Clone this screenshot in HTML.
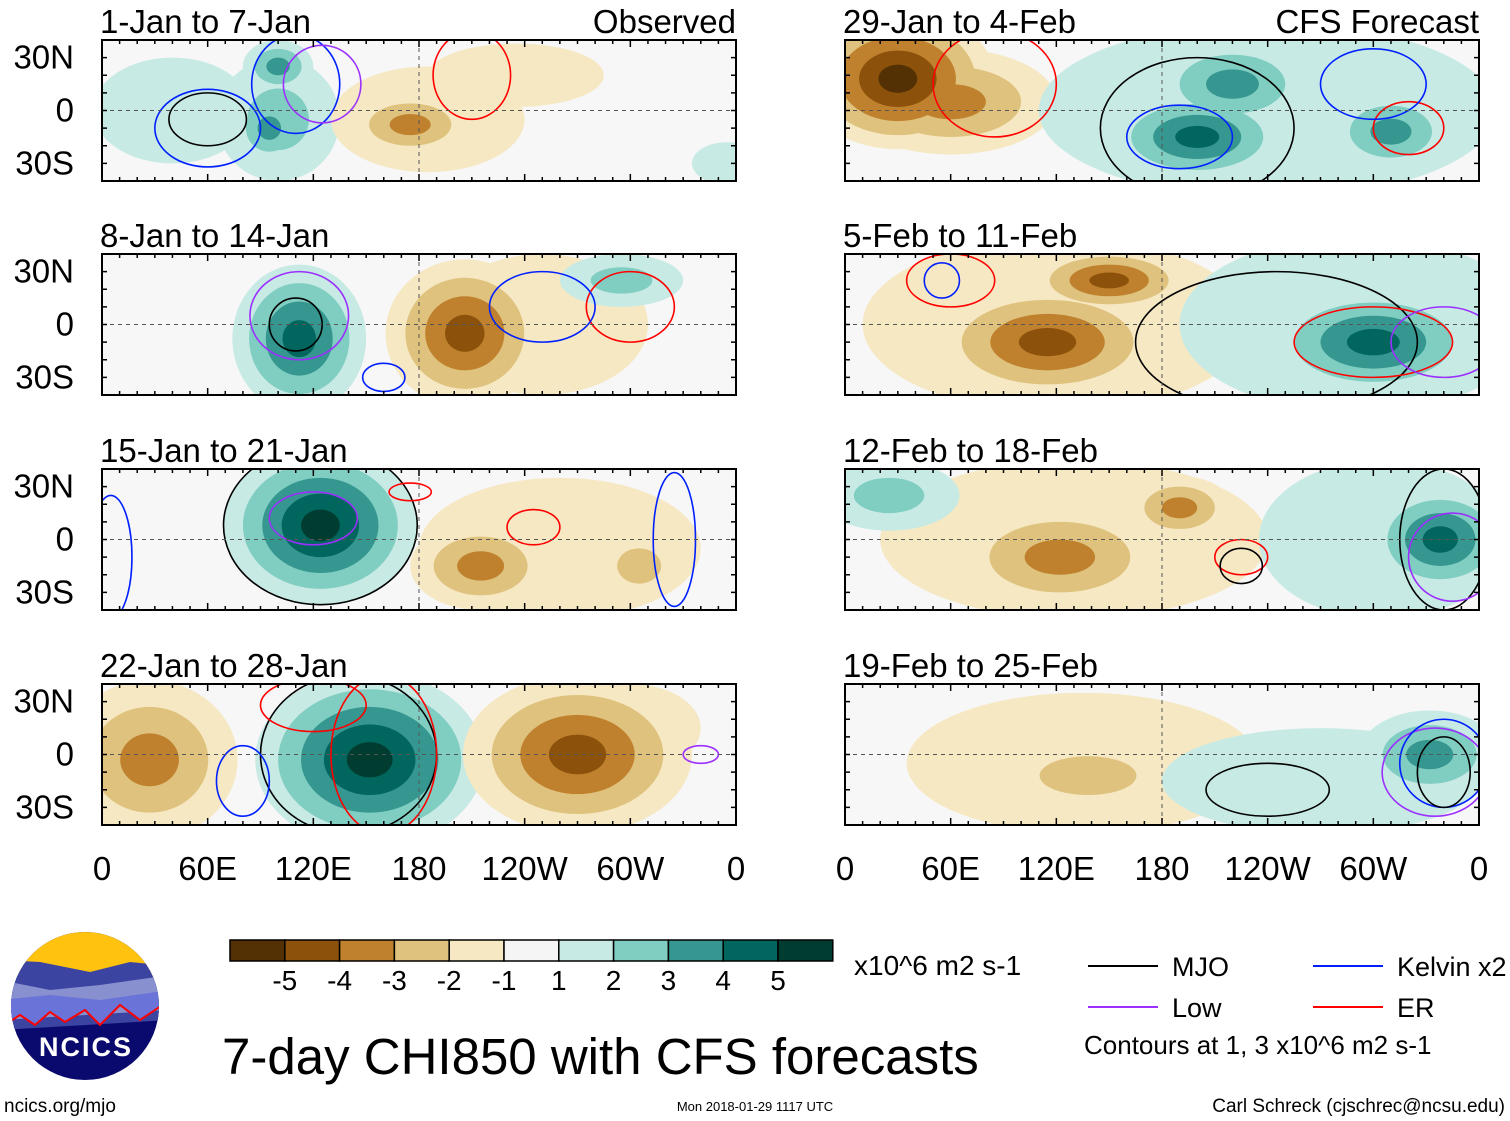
<!DOCTYPE html>
<html><head><meta charset="utf-8"><style>
html,body{margin:0;padding:0;background:#fff;}
svg{display:block;font-family:"Liberation Sans",sans-serif;}
</style></head><body>
<svg id="chart" width="1510" height="1121" viewBox="0 0 1510 1121" xmlns="http://www.w3.org/2000/svg">
<g id="panels"></g>
<g id="legend"></g>
</svg>
<script>
// ---- data ----
const levelColors = ["#543005","#8c510a","#bf812d","#dfc27d","#f6e8c3","#f5f5f5","#c7eae5","#80cdc1","#35978f","#01665e","#003c30"];
const levelLabels = ["-5","-4","-3","-2","-1","1","2","3","4","5"];
const lonTickLabels = ["0","60E","120E","180","120W","60W","0"];
const latTickLabels = ["30N","0","30S"];
const latTicks = [30,0,-30];
const panelTitles = ["1-Jan to 7-Jan","8-Jan to 14-Jan","15-Jan to 21-Jan","22-Jan to 28-Jan","29-Jan to 4-Feb","5-Feb to 11-Feb","12-Feb to 18-Feb","19-Feb to 25-Feb"];
// blobs: [lon, lat, lonRadius, latRadius, level]
const blobsP1 = [[40,0,45,30,1],[100,-5,35,35,2],[95,-10,20,20,3],[100,25,20,15,3],[185,-5,55,30,-1],[235,20,50,18,-1],[175,-8,35,18,-3],[355,-30,20,12,1]];
const blobsP2 = [[112,-8,38,42,4],[206,-5,45,42,-4],[250,0,60,40,-1],[295,25,35,15,2]];
const blobsP3 = [[124,8,55,45,5],[260,-5,80,40,-1],[215,-15,40,25,-3],[305,-15,25,20,-2]];
const blobsP4 = [[27,-3,50,45,-3],[152,-3,65,50,5],[270,0,65,45,-4],[300,15,40,25,-1]];
const blobsP5 = [[30,18,55,40,-5],[60,5,60,30,-3],[200,-15,50,25,4],[220,15,45,25,3],[310,-12,35,22,3],[240,0,130,50,1]];
const blobsP6 = [[115,-10,65,32,-4],[150,25,45,18,-4],[120,0,110,50,-1],[300,-10,60,30,4],[290,0,100,50,1]];
const blobsP7 = [[122,-10,60,30,-3],[190,18,30,18,-3],[130,0,110,45,-1],[338,0,40,30,4],[305,0,70,45,1],[25,25,40,20,2]];
const blobsP8 = [[138,-12,55,22,-2],[135,-5,100,40,-1],[332,0,40,25,3],[270,-15,90,30,1]];
const blobSets = [blobsP1,blobsP2,blobsP3,blobsP4,blobsP5,blobsP6,blobsP7,blobsP8];
// contours: [lon, lat, lonR, latR, colorIndex] 0 MJO 1 Low 2 Kelvin 3 ER
const contP1 = [[60,-10,30,22,2],[110,15,25,28,2],[125,15,22,22,1],[210,20,22,25,3],[60,-5,22,15,0]];
const contP2 = [[112,5,28,25,1],[110,0,15,15,0],[300,10,25,20,3],[250,10,30,20,2],[160,-30,12,8,2]];
const contP3 = [[124,8,55,45,0],[120,12,25,15,1],[245,7,15,10,3],[175,27,12,5,3],[5,-10,12,35,2],[325,0,12,38,2]];
const contP4 = [[140,0,50,45,0],[160,0,30,45,3],[120,28,30,15,3],[340,0,10,5,1],[80,-15,15,20,2]];
const contP5 = [[200,-10,55,40,0],[190,-15,30,18,2],[85,15,35,30,3],[320,-10,20,15,3],[300,15,30,20,2]];
const contP6 = [[245,-10,80,40,0],[300,-10,45,20,3],[340,-10,30,20,1],[60,25,25,15,3],[55,25,10,10,2]];
const contP7 = [[340,0,25,40,0],[345,-10,25,25,1],[225,-10,15,10,3],[225,-15,12,10,0]];
const contP8 = [[335,-10,30,25,1],[340,-5,25,25,2],[240,-20,35,15,0],[340,-10,15,20,0]];
const contSets = [contP1,contP2,contP3,contP4,contP5,contP6,contP7,contP8];
const contourColors = ["#000","#9b30ff","#0020ff","#ff0000"];

const NS="http://www.w3.org/2000/svg";
function mk(t,attrs,parent){const e=document.createElementNS(NS,t);for(const k in attrs)e.setAttribute(k,attrs[k]);parent.appendChild(e);return e;}
const panelsG=document.getElementById('panels');
const cols=[102,845], rows=[40,254,469,684], W=634, H=141;
function xS(x0,lon){return x0+lon/360*W;}
function yS(y0,lat){return y0+(40-lat)/80*H;}

for(let p=0;p<8;p++){
  const x0=cols[p<4?0:1], y0=rows[p%4];
  const g=mk('g',{},panelsG);
  
  
  const cid='clip'+p;
  const cp=mk('clipPath',{id:cid},g);mk('rect',{x:x0,y:y0,width:W,height:H},cp);
  mk('rect',{x:x0,y:y0,width:W,height:H,fill:'#f7f7f7'},g);
  const fg=mk('g',{'clip-path':'url(#'+cid+')'},g);
  const blobs=blobSets[p];
  for(let lev=1;lev<=5;lev++){
    blobs.forEach(b=>{
      const L=Math.abs(b[4]); if(L<lev) return;
      const s=(L-lev+1)/L;
      const ci=b[4]<0?5-lev:5+lev;
      const e=mk('ellipse',{cx:xS(x0,b[0]),cy:yS(y0,b[1]),rx:b[2]/360*W*s,ry:b[3]/80*H*s,fill:levelColors[ci]},fg);
      
      
    });
  }
  contSets[p].forEach(c=>{
    const e=mk('ellipse',{cx:xS(x0,c[0]),cy:yS(y0,c[1]),rx:c[2]/360*W,ry:c[3]/80*H,fill:'none',stroke:contourColors[c[4]],'stroke-width':1.6},fg);
    
    
  });
  mk('line',{x1:x0,x2:x0+W,y1:yS(y0,0),y2:yS(y0,0),stroke:'#555','stroke-dasharray':'4,4','stroke-width':1},g);
  mk('line',{x1:xS(x0,180),x2:xS(x0,180),y1:y0,y2:y0+H,stroke:'#555','stroke-dasharray':'4,4','stroke-width':1},g);
  const fr=mk('rect',{x:x0,y:y0,width:W,height:H,fill:'none',stroke:'#000','stroke-width':2},g);
  
  
  for(let lon=0;lon<=360;lon+=10){
    const len=lon%60===0?7:4, x=xS(x0,lon);
    mk('line',{x1:x,x2:x,y1:y0,y2:y0+len,stroke:'#000','stroke-width':1.5},g);
    mk('line',{x1:x,x2:x,y1:y0+H,y2:y0+H-len,stroke:'#000','stroke-width':1.5},g);
  }
  for(let lat=-40;lat<=40;lat+=10){
    const y=yS(y0,lat);
    mk('line',{x1:x0,x2:x0+5,y1:y,y2:y,stroke:'#000','stroke-width':1.5},g);
    mk('line',{x1:x0+W,x2:x0+W-5,y1:y,y2:y,stroke:'#000','stroke-width':1.5},g);
  }
  const t=mk('text',{x:x0-2,y:y0-7,'font-size':33},g);t.textContent=panelTitles[p];
  
  
  if(p===0||p===4){
    const r=mk('text',{x:x0+W,y:y0-7,'font-size':33,'text-anchor':'end'},g);r.textContent=p===0?'Observed':'CFS Forecast';
    
    
  }
  if(p<4){
    latTicks.forEach((lat,i)=>{
      const tl=mk('text',{x:74,y:yS(y0,lat)+11,'font-size':33,'text-anchor':'end'},g);tl.textContent=latTickLabels[i];
      
      
    });
  }
  if(p===3||p===7){
    lonTickLabels.forEach((lb,i)=>{
      const tl=mk('text',{x:xS(x0,i*60),y:880,'font-size':33,'text-anchor':'middle'},g);tl.textContent=lb;
      
      
    });
  }
}

// ---- legend ----
const lg=document.getElementById('legend');
const bx0=230,bw=54.8;
levelColors.forEach((c,i)=>{
  const r=mk('rect',{x:bx0+i*bw,y:940,width:bw,height:21,fill:c,stroke:'#000','stroke-width':1.5},lg);
  
  
});
levelLabels.forEach((l,i)=>{
  const t=mk('text',{x:bx0+(i+1)*bw,y:990,'font-size':28,'text-anchor':'middle'},lg);t.textContent=l;
  
  
});
function txt(x,y,s,str,anchor,name,col){const t=mk('text',{x:x,y:y,'font-size':s,'text-anchor':anchor||'start',fill:col||'#000'},lg);t.textContent=str;return t;}
txt(854,975,28,'x10^6 m2 s-1','start','colorbar-units');
txt(222,1074,51,'7-day CHI850 with CFS forecasts','start','main-title');
const legItems=[[1088,966,'MJO','#000'],[1313,966,'Kelvin x2','#0020ff'],[1088,1007,'Low','#9b30ff'],[1313,1007,'ER','#ff0000']];
legItems.forEach(li=>{
  const l=mk('line',{x1:li[0],x2:li[0]+70,y1:li[1],y2:li[1],stroke:li[3],'stroke-width':2},lg);
  
  
  txt(li[0]+84,li[1]+10,27,li[2],'start','legend-entry');
});
txt(1084,1054,26,'Contours at 1, 3 x10^6 m2 s-1','start','contour-note');
txt(4,1112,19,'ncics.org/mjo','start','site-url');
txt(755,1111,13,'Mon 2018-01-29 1117 UTC','middle','timestamp');
txt(1505,1112,19,'Carl Schreck (cjschrec@ncsu.edu)','end','author');
const logo=mk('g',{},lg);


const lc=mk('clipPath',{id:'logoclip'},logo);mk('ellipse',{cx:85,cy:1006,rx:74,ry:74},lc);
const lgc=mk('g',{'clip-path':'url(#logoclip)'},logo);
mk('rect',{x:0,y:930,width:170,height:160,fill:'#0a0a6e'},lgc);
mk('rect',{x:0,y:930,width:170,height:45,fill:'#ffc20e'},lgc);
mk('path',{d:'M0 960 L40 962 L90 972 L130 962 L170 966 L170 1020 L0 1030 Z',fill:'#3b44a0'},lgc);
mk('path',{d:'M0 980 L50 990 L100 985 L170 975 L170 1010 L0 1020 Z',fill:'#8890d0'},lgc);
mk('path',{d:'M0 1000 L50 995 L100 1000 L170 990 L170 1000 L140 1020 L120 1005 L100 1025 L85 1010 L65 1022 L50 1012 L35 1025 L20 1015 L0 1028 Z',fill:'#6a74d8'},lgc);
mk('path',{d:'M0 1028 L20 1015 L35 1025 L50 1012 L65 1022 L85 1010 L100 1025 L120 1005 L140 1020 L170 1000',fill:'none',stroke:'#f00','stroke-width':2},lgc);
const nt=mk('text',{x:86,y:1056,'font-size':27,'font-weight':'bold','text-anchor':'middle',fill:'#fff','letter-spacing':'2'},logo);nt.textContent='NCICS';
</script>
</body></html>
